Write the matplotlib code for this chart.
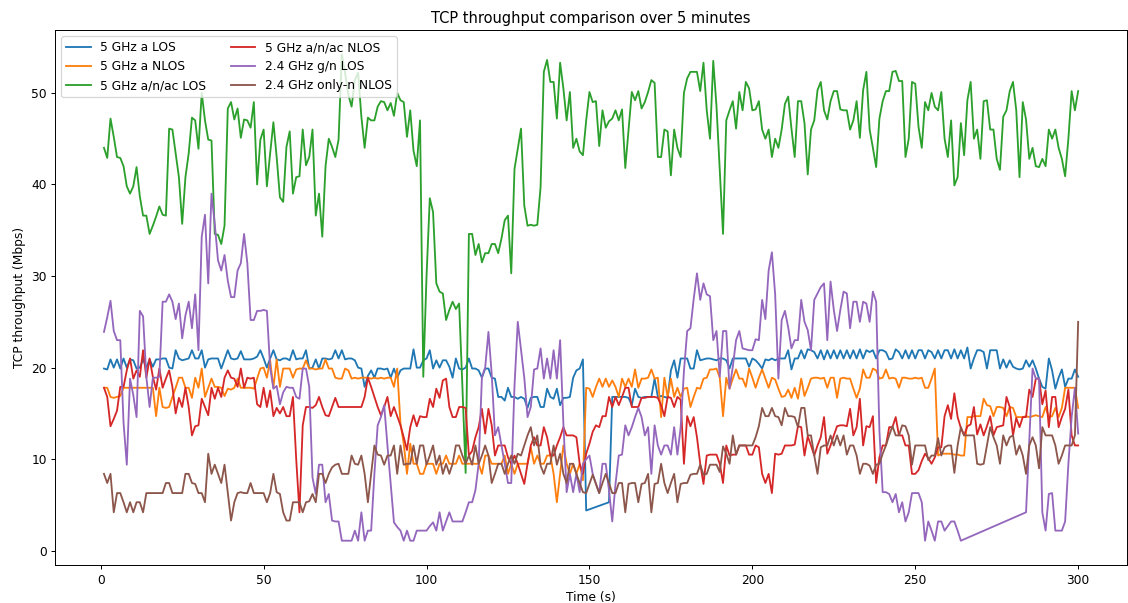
import numpy as np
import matplotlib.pyplot as plt

# ===================== Data (1 sample / s) =====================
time_s = np.arange(1, 301)

series_labels = [
    "5 GHz a LOS",
    "5 GHz a NLOS",
    "5 GHz a/n/ac LOS",
    "5 GHz a/n/ac NLOS",
    "2.4 GHz g/n LOS",
    "2.4 GHz only-n NLOS",
]

# None = missing sample (the line just joins the neighbours)
a_los = [
    19.9, 19.8, 20.9, 20.0, 20.9, 19.9, 21.0, 20.0, 20.9, 20.8,
    19.9, 20.0, 20.9, 20.0, 20.9, 20.1, 20.9, 20.9, 21.0, 21.0,
    20.0, 19.9, 21.9, 21.0, 20.8, 20.9, 21.0, 21.9, 21.0, 21.0,
    21.9, 20.0, 20.9, 21.0, 21.0, 21.0, 19.9, 20.9, 21.9, 21.0,
    20.9, 21.0, 21.8, 20.9, 20.9, 20.9, 21.0, 21.2, 21.9, 21.0,
    20.0, 21.0, 21.9, 20.9, 20.8, 21.0, 21.0, 20.8, 21.9, 20.9,
    21.0, 21.0, 21.9, 19.9, 20.0, 20.9, 19.9, 21.0, 21.0, 20.9,
    21.0, 21.9, 21.0, 21.9, 20.9, 21.0, 21.0, 20.8, 20.0, 19.9,
    17.9, 19.1, 19.7, 18.9, 19.9, 19.9, 19.8, 19.9, 18.9, 19.9,
    18.9, 19.7, 19.9, 19.9, 19.9, 22.0, 20.0, 20.0, 20.8, 21.0,
    21.9, 19.9, 20.8, 20.0, 20.8, 20.8, 20.1, 18.9, 21.0, 19.9,
    19.8, 20.0, 21.0, 19.9, 19.9, 19.7, 18.9, 19.9, 19.9, 18.9,
    18.8, 16.8, 16.8, 16.4, 17.8, 16.8, 16.8, 16.6, 16.8, 16.6,
    15.6, 16.7, 16.8, 16.8, 15.7, 15.7, 17.7, 16.8, 16.6, 17.7,
    15.9, 16.7, 16.7, 16.8, 18.9, 19.7, 19.9, 20.9, 4.4, None,
    None, None, None, None, None, 5.3, 16.8, 16.8, 16.8, 16.8,
    16.8, 16.7, 15.9, 17.7, 16.8, 16.7, 16.8, 16.8, 16.8, 18.8,
    16.8, 16.9, 16.8, 16.7, 19.7, 20.8, 18.9, 21.0, 21.0, 21.0,
    19.9, 19.9, 21.9, 20.8, 20.9, 21.0, 21.0, 20.9, 20.8, 21.0,
    21.0, 20.8, 19.9, 21.0, 21.0, 21.0, 21.0, 21.0, 20.1, 21.0,
    20.8, 20.4, 19.9, 20.9, 20.8, 21.0, 20.8, 21.0, 21.0, 21.0,
    21.9, 19.8, 21.0, 21.0, 21.9, 21.0, 22.0, 21.9, 21.7, 21.0,
    21.9, 20.9, 21.9, 21.0, 21.9, 21.0, 21.9, 21.0, 21.9, 21.0,
    21.9, 21.0, 22.0, 21.0, 21.9, 21.7, 21.9, 21.0, 21.9, 21.9,
    21.7, 20.9, 21.0, 22.0, 21.7, 21.0, 21.9, 21.0, 21.9, 21.0,
    21.9, 21.9, 21.0, 21.9, 21.7, 21.0, 21.9, 21.0, 21.9, 21.9,
    21.0, 22.0, 21.0, 21.9, 21.0, 22.2, 19.9, 21.0, 21.9, 21.9,
    21.7, 19.9, 21.9, 21.9, 21.9, 19.9, 20.9, 20.0, 20.8, 20.1,
    19.9, 19.8, 19.9, 20.8, 20.1, 20.8, 19.9, 18.8, 17.9, 17.7,
    21.0, 19.7, 17.7, 18.9, 19.8, 17.9, 18.8, 18.8, 19.8, 19.0,
]

a_nlos = [
    17.8, 17.8, 16.8, 16.7, 16.8, 16.9, 17.8, 17.8, 17.8, 17.8,
    17.8, 17.8, 17.8, 17.8, 17.8, 17.8, 14.7, 17.8, 15.7, 15.6,
    15.7, 16.8, 17.8, 18.9, 18.9, 17.8, 17.8, 16.7, 18.9, 17.8,
    19.9, 16.8, 17.8, 18.8, 17.9, 17.9, 17.8, 16.9, 17.7, 17.6,
    17.8, 18.8, 17.8, 17.8, 17.8, 17.8, 17.7, 18.8, 19.9, 20.0,
    18.9, 20.8, 17.8, 20.9, 17.9, 19.9, 19.9, 19.9, 18.9, 19.8,
    19.9, 19.9, 20.8, 19.9, 19.9, 19.8, 19.9, 19.9, 20.9, 19.9,
    19.9, 18.9, 18.8, 18.8, 19.9, 19.7, 18.8, 18.9, 18.8, 18.9,
    18.9, 18.9, 18.8, 18.9, 18.8, 18.9, 18.8, 18.9, 18.9, 17.9,
    19.9, 13.9, 11.7, 8.4, 11.7, 9.5, 9.5, 8.4, 8.4, 9.5,
    9.5, 9.5, 8.4, 9.5, 9.5, 10.4, 9.5, 9.5, 9.5, 10.4,
    9.5, 9.5, 9.5, 9.5, 9.5, 9.5, 8.4, 10.4, 10.4, 9.5,
    9.5, 9.5, 9.5, 10.4, 8.4, 9.5, 8.4, 9.5, 9.5, 9.5,
    9.5, 11.3, 9.5, 10.4, 9.5, 9.5, 10.4, 10.4, 8.4, 5.3,
    8.4, 11.5, 9.5, 8.4, 9.5, 8.4, 9.5, 7.7, 17.8, 17.7,
    16.8, 17.9, 18.8, 17.9, 18.8, 17.9, 18.6, 17.9, 16.8, 18.8,
    17.9, 18.8, 17.9, 19.8, 17.8, 18.8, 18.8, 18.9, 19.8, 18.8,
    18.9, 14.6, 18.9, 16.8, 18.8, 16.8, 17.8, 16.8, 17.7, 17.8,
    15.7, 16.8, 17.8, 17.7, 18.8, 18.9, 19.8, 19.8, 19.9, 18.9,
    14.7, 18.9, 17.7, 18.8, 19.8, 18.8, 18.8, 17.9, 19.9, 18.9,
    17.8, 18.9, 19.8, 18.8, 17.8, 18.9, 18.7, 17.7, 16.8, 16.9,
    17.6, 16.7, 17.8, 16.6, 18.8, 16.9, 17.8, 18.8, 18.9, 18.9,
    18.8, 18.9, 17.8, 18.9, 18.9, 16.7, 18.8, 18.9, 18.8, 18.8,
    17.7, 16.7, 17.7, 19.8, 18.9, 18.9, 19.9, 19.7, 18.8, 18.9,
    19.8, 18.8, 18.9, 18.8, 17.8, 18.9, 18.9, 18.8, 18.8, 18.9,
    18.8, 18.9, 17.8, 17.8, 18.8, 19.9, 10.4, 10.6, 10.6, 10.6,
    10.6, 10.5, 10.5, 10.4, 10.4, 14.6, 14.6, 14.7, 14.7, 14.7,
    16.6, 15.9, 15.8, 14.7, 15.7, 15.7, 15.6, 14.7, 15.7, 15.6,
    14.6, 14.6, 14.6, 14.7, 14.6, 14.7, 14.8, 14.7, 14.6, 15.7,
    14.6, 14.7, 15.6, 14.6, 15.6, 17.8, 17.8, 17.8, 17.8, 15.6,
]

anac_los = [
    44.0, 42.9, 47.2, 45.2, 43.0, 42.9, 42.0, 39.8, 39.0, 39.8,
    41.9, 38.7, 36.6, 36.6, 34.6, 35.5, 36.5, 37.6, 36.7, 36.6,
    46.1, 46.0, 43.4, 40.8, 35.7, 40.8, 43.4, 47.3, 47.0, 43.9,
    50.0, 47.0, 44.9, 44.8, 34.6, 34.5, 33.5, 35.5, 48.3, 49.0,
    47.1, 48.3, 45.1, 47.1, 47.0, 46.2, 49.0, 40.0, 44.9, 46.0,
    39.8, 43.4, 46.8, 43.0, 38.6, 38.1, 44.1, 45.8, 39.0, 40.8,
    40.9, 46.0, 42.1, 43.0, 46.0, 36.6, 39.0, 34.3, 42.0, 45.0,
    44.1, 43.0, 44.9, 54.2, 52.2, 49.8, 48.5, 51.4, 52.2, 47.4,
    44.0, 47.3, 47.0, 47.0, 48.5, 49.1, 49.0, 48.1, 48.9, 47.5,
    50.0, 49.2, 49.0, 45.2, 48.1, 43.7, 42.0, 47.0, 19.0, 30.0,
    38.5, 37.0, 29.2, 28.3, 28.1, 25.2, 26.3, 27.2, 26.4, 27.0,
    18.0, 8.5, 34.6, 34.6, 32.3, 33.5, 31.5, 32.5, 32.5, 33.5,
    33.5, 32.5, 34.1, 36.1, 36.6, 30.3, 41.7, 43.9, 46.1, 37.7,
    35.5, 35.6, 35.5, 35.6, 39.7, 52.3, 53.6, 51.2, 51.2, 47.2,
    53.3, 50.5, 47.0, 50.1, 44.0, 45.0, 43.6, 43.2, 47.0, 50.1,
    49.0, 49.1, 44.2, 48.1, 46.2, 46.9, 47.2, 48.1, 47.0, 48.2,
    41.8, 45.9, 50.1, 49.2, 50.2, 48.3, 49.0, 50.1, 51.4, 51.1,
    43.0, 43.0, 46.0, 45.8, 41.0, 46.0, 44.0, 43.0, 50.0, 51.6,
    52.3, 52.3, 52.3, 50.2, 53.3, 48.1, 45.0, 53.5, 48.5, 41.5,
    34.6, 47.0, 48.1, 49.1, 46.1, 50.1, 48.1, 51.2, 50.5, 48.1,
    48.2, 49.1, 46.0, 45.0, 46.0, 43.0, 45.0, 44.0, 46.0, 48.8,
    49.6, 46.1, 43.0, 49.1, 49.1, 46.7, 41.1, 46.0, 47.0, 50.3,
    51.2, 48.1, 47.1, 49.1, 50.2, 50.2, 48.2, 48.1, 48.1, 46.0,
    47.0, 49.1, 45.1, 50.3, 52.3, 46.0, 44.0, 41.9, 47.2, 49.1,
    50.2, 50.2, 52.3, 52.4, 51.3, 51.3, 43.0, 45.0, 51.2, 51.0,
    46.3, 44.0, 49.0, 48.1, 50.0, 48.5, 48.1, 50.1, 45.0, 43.0,
    47.0, 39.9, 40.8, 46.7, 43.2, 49.2, 51.2, 45.0, 46.0, 42.8,
    49.1, 49.2, 46.0, 46.0, 42.8, 41.6, 47.4, 48.1, 50.2, 51.2,
    48.1, 40.8, 49.0, 47.1, 42.8, 44.0, 42.0, 41.9, 42.8, 42.0,
    46.0, 45.0, 46.0, 44.0, 42.8, 40.9, 45.0, 50.2, 48.1, 50.2,
]

anac_nlos = [
    17.8, 16.8, 13.6, 14.4, 15.3, 17.9, 17.9, 19.7, 21.0, 18.8,
    19.7, 19.0, 21.9, 18.9, 21.0, 19.0, 17.6, 19.9, 17.8, 18.8,
    19.7, 17.9, 15.0, 16.7, 15.7, 17.8, 15.7, 12.6, 13.6, 13.7,
    16.6, 15.7, 14.8, 17.8, 16.6, 17.8, 16.8, 18.9, 19.7, 18.9,
    18.8, 17.9, 19.9, 17.8, 18.9, 18.8, 18.9, 16.0, 15.7, 17.8,
    15.7, 17.5, 14.7, 15.6, 15.0, 15.7, 14.7, 14.7, 16.8, 10.0,
    4.2, 13.7, 15.7, 15.7, 15.6, 15.9, 16.8, 15.7, 14.8, 14.7,
    15.7, 16.7, 15.7, 15.7, 15.7, 15.7, 15.7, 15.7, 15.7, 15.7,
    16.8, 18.9, 17.9, 16.8, 15.7, 14.8, 15.7, 16.8, 14.7, 15.7,
    14.7, 13.7, 12.4, 11.0, 13.5, 14.8, 13.6, 14.7, 14.6, 14.6,
    16.6, 15.7, 17.7, 16.7, 18.6, 18.8, 15.7, 14.6, 14.6, 15.7,
    15.7, 15.6, 10.4, 10.9, 12.4, 13.5, 15.5, 12.8, 15.5, 13.7,
    10.4, 11.5, 11.5, 11.5, 10.2, 9.5, 10.4, 9.5, 8.4, 7.3,
    9.5, 11.5, 12.4, 11.5, 11.5, 13.5, 12.4, 10.4, 10.4, 11.5,
    12.4, 13.5, 12.6, 12.6, 12.6, 12.4, 9.5, 8.4, 10.6, 11.7,
    13.0, 13.7, 13.5, 14.7, 14.7, 16.8, 15.7, 16.8, 15.9, 16.8,
    17.8, 17.8, 15.7, 15.7, 15.7, 16.7, 16.7, 16.8, 16.8, 16.8,
    16.7, 15.9, 14.7, 16.8, 16.7, 15.7, 16.8, 16.5, 9.5, 14.7,
    13.6, 14.6, 12.4, 9.5, 7.3, 10.4, 10.5, 10.5, 10.5, 9.5,
    7.4, 11.5, 10.4, 10.5, 10.5, 11.5, 11.5, 11.5, 10.5, 10.5,
    11.5, 11.3, 8.4, 7.4, 8.4, 6.3, 10.6, 10.5, 10.6, 11.5,
    11.5, 11.5, 11.6, 13.6, 13.5, 10.4, 12.5, 11.5, 10.4, 11.5,
    12.4, 14.6, 10.6, 11.5, 12.6, 13.6, 13.7, 13.7, 13.6, 15.5,
    12.6, 13.5, 16.6, 11.5, 13.6, 13.5, 14.7, 7.4, 10.2, 11.5,
    11.5, 13.5, 13.5, 14.6, 12.6, 12.6, 11.5, 11.5, 8.4, 8.4,
    8.8, 9.8, 10.6, 10.1, 9.5, 10.2, 11.3, 11.3, 14.7, 15.9,
    14.4, 17.2, 14.6, 13.4, 12.6, 13.6, 13.8, 15.7, 12.7, 13.8,
    12.6, 13.6, 14.7, 12.6, 13.5, 13.6, 13.7, 16.8, 15.7, 12.6,
    14.5, 13.5, 14.6, 14.6, 17.6, 16.8, 18.8, 18.8, 16.0, 17.5,
    13.5, 16.8, 16.8, 13.5, 14.6, 15.5, 17.6, 12.6, 11.5, 11.5,
]

gn_los = [
    23.9, 25.5, 27.3, 24.0, 23.0, 23.0, 14.0, 9.4, 18.8, 17.0,
    14.6, 26.2, 25.6, 19.0, 15.7, 18.9, 18.9, 19.0, 27.2, 27.2,
    28.0, 27.2, 25.3, 27.0, 23.2, 25.7, 27.2, 24.3, 28.0, 21.9,
    34.3, 36.7, 29.2, 39.0, 35.7, 31.7, 30.6, 32.3, 29.5, 27.7,
    27.7, 30.6, 31.4, 34.6, 31.4, 25.2, 25.2, 26.2, 26.2, 26.3,
    26.2, 20.0, 17.7, 18.0, 16.0, 17.3, 17.9, 17.8, 17.8, 16.8,
    16.6, 19.9, 19.9, 17.9, 8.0, 6.2, 9.4, 9.4, 5.3, 6.2,
    3.3, 3.2, 3.2, 1.1, 1.1, 1.1, 1.1, 2.2, 1.1, 4.2,
    1.1, 2.2, 2.2, 8.4, 13.7, 14.6, 15.9, 11.5, 7.3, 3.1,
    2.6, 2.2, 1.1, 2.2, 1.1, 1.1, 2.2, 2.2, 2.2, 2.2,
    2.7, 3.1, 2.2, 4.2, 2.2, 3.2, 4.2, 3.2, 3.2, 3.2,
    3.2, 4.2, 5.3, 5.3, 6.6, 9.5, 19.0, 20.0, 23.9, 19.3,
    12.6, 13.5, 11.5, 9.5, 7.4, 7.4, 18.0, 25.0, 21.9, 18.9,
    14.6, 15.7, 19.8, 19.9, 22.1, 18.8, 21.0, 18.8, 21.9, 18.8,
    23.0, 13.9, 6.4, 8.4, 6.4, 8.4, 6.4, 9.5, 10.0, 10.4,
    8.4, 7.3, 6.3, 9.5, 9.5, 6.6, 3.2, 7.3, 10.4, 10.5,
    13.7, 12.6, 13.5, 14.6, 15.6, 14.6, 12.6, 13.5, 8.4, 13.7,
    11.5, 10.5, 11.5, 11.5, 10.5, 13.5, 10.5, 13.5, 19.6, 24.0,
    24.3, 27.5, 30.3, 27.4, 29.2, 28.0, 27.8, 23.0, 24.0, 19.0,
    24.0, 24.0, 17.7, 20.1, 23.0, 24.0, 22.1, 22.0, 21.9, 21.9,
    23.1, 23.0, 27.4, 25.3, 30.6, 32.6, 28.0, 18.8, 25.2, 26.2,
    24.4, 22.1, 23.0, 23.0, 27.4, 25.0, 24.1, 21.9, 27.4, 28.1,
    28.8, 29.2, 23.0, 29.4, 26.3, 24.0, 26.3, 28.3, 28.1, 24.3,
    27.2, 27.2, 25.0, 27.2, 27.0, 25.0, 28.3, 27.2, 13.1, 6.4,
    6.4, 6.2, 5.3, 6.2, 4.2, 5.3, 3.2, 4.2, 6.3, 6.3,
    6.3, 5.3, 1.1, 3.2, 2.2, 1.1, 3.2, 3.2, 2.2, 2.7,
    3.2, 3.2, 2.2, 1.1, None, None, None, None, None, None,
    None, None, None, None, None, None, None, None, None, None,
    None, None, None, 4.2, 12.0, 19.9, 18.8, 18.8, 4.2, 2.2,
    6.2, 6.3, 2.2, 2.2, 2.2, 3.2, 9.5, 14.6, 17.8, 12.8,
]

onlyn_nlos = [
    8.4, 7.4, 8.4, 4.2, 6.3, 6.3, 5.3, 4.2, 5.3, 4.2,
    5.3, 5.3, 4.2, 6.3, 6.3, 6.3, 6.3, 6.3, 6.3, 7.4,
    7.4, 6.3, 6.3, 6.3, 6.3, 8.4, 8.4, 7.4, 7.3, 6.3,
    6.3, 5.3, 10.6, 8.4, 9.4, 8.4, 7.4, 9.4, 6.3, 3.3,
    5.3, 6.3, 6.4, 6.3, 6.3, 7.4, 6.3, 6.3, 6.3, 6.3,
    5.3, 6.3, 8.4, 6.4, 6.2, 4.2, 3.3, 3.3, 5.3, 5.3,
    5.3, 4.2, 5.3, 5.4, 6.2, 5.3, 8.4, 8.4, 7.4, 8.4,
    9.1, 9.4, 9.5, 8.4, 8.4, 8.4, 10.4, 9.5, 9.4, 10.4,
    8.4, 5.3, 8.4, 11.5, 10.5, 10.4, 9.4, 10.4, 10.4, 11.5,
    8.4, 11.5, 9.4, 9.5, 9.5, 11.5, 9.5, 11.5, 11.5, 9.4,
    10.4, 11.5, 9.4, 10.4, 8.4, 9.5, 8.4, 9.5, 11.5, 11.5,
    10.4, 9.5, 10.4, 9.4, 11.5, 9.5, 10.4, 11.5, 10.4, 7.4,
    8.4, 9.5, 9.5, 8.4, 9.5, 10.4, 9.5, 10.6, 10.4, 11.5,
    12.6, 13.5, 11.5, 12.6, 9.3, 8.4, 9.5, 9.5, 11.5, 9.4,
    10.6, 8.4, 7.4, 9.5, 9.5, 8.4, 7.4, 6.4, 6.3, 7.3,
    8.3, 7.3, 6.3, 7.4, 8.4, 7.4, 6.3, 6.3, 7.4, 7.4,
    4.2, 7.3, 7.4, 7.4, 5.3, 7.3, 7.4, 8.4, 4.2, 7.3,
    7.4, 9.5, 7.4, 6.3, 7.4, 8.4, 5.3, 7.3, 7.4, 7.4,
    8.3, 8.4, 8.4, 9.4, 8.3, 8.4, 9.4, 9.4, 9.4, 8.6,
    11.4, 10.6, 9.5, 12.6, 10.5, 11.5, 11.5, 11.5, 11.5, 11.5,
    12.4, 13.6, 15.6, 14.7, 14.7, 15.6, 14.7, 14.6, 13.7, 15.6,
    14.7, 14.7, 14.6, 13.5, 15.6, 15.6, 12.6, 12.6, 10.4, 8.4,
    11.3, 11.5, 11.5, 12.6, 11.5, 12.6, 11.5, 12.6, 10.5, 11.5,
    11.5, 10.4, 8.4, 9.5, 9.5, 9.3, 8.4, 9.4, 9.5, 10.6,
    11.5, 12.6, 13.6, 12.6, 12.6, 13.7, 13.6, 12.6, 9.4, 11.5,
    11.5, 11.5, 11.5, 9.9, 10.4, 10.4, 12.3, 10.4, 11.3, 11.5,
    11.5, 8.5, 11.5, 13.5, 12.6, 12.6, 12.6, 12.6, 9.5, 9.4,
    9.5, 11.5, 13.5, 12.4, 11.5, 9.5, 12.6, 11.5, 12.4, 12.6,
    10.5, 11.5, 10.4, 8.4, 11.5, 12.4, 11.5, 9.0, 13.5, 12.6,
    12.6, 12.6, 11.5, 9.5, 10.4, 11.5, 11.5, 11.5, 12.6, 25.0,
]

all_series = [a_los, a_nlos, anac_los, anac_nlos, gn_los, onlyn_nlos]


def valid_points(t, values):
    """Drop missing samples so the line joins the neighbouring points."""
    pts = [(ti, v) for ti, v in zip(t, values) if v is not None]
    return [p[0] for p in pts], [p[1] for p in pts]


# ===================== Plot =====================
# reference was rendered at ~88 dpi (smaller text and thinner lines)
DPI = 88
fig, ax = plt.subplots(figsize=(1128 / DPI, 603 / DPI), dpi=DPI)
fig.subplots_adjust(left=0.049, right=0.999, top=0.950, bottom=0.063)

for label, values in zip(series_labels, all_series):
    xs, ys = valid_points(time_s, values)
    ax.plot(xs, ys, label=label)

ax.set_title("TCP throughput comparison over 5 minutes")
ax.set_xlabel("Time (s)")
ax.set_ylabel("TCP throughput (Mbps)")
ax.legend(loc="upper left", ncol=2)

fig.savefig("out.png", dpi=DPI)
